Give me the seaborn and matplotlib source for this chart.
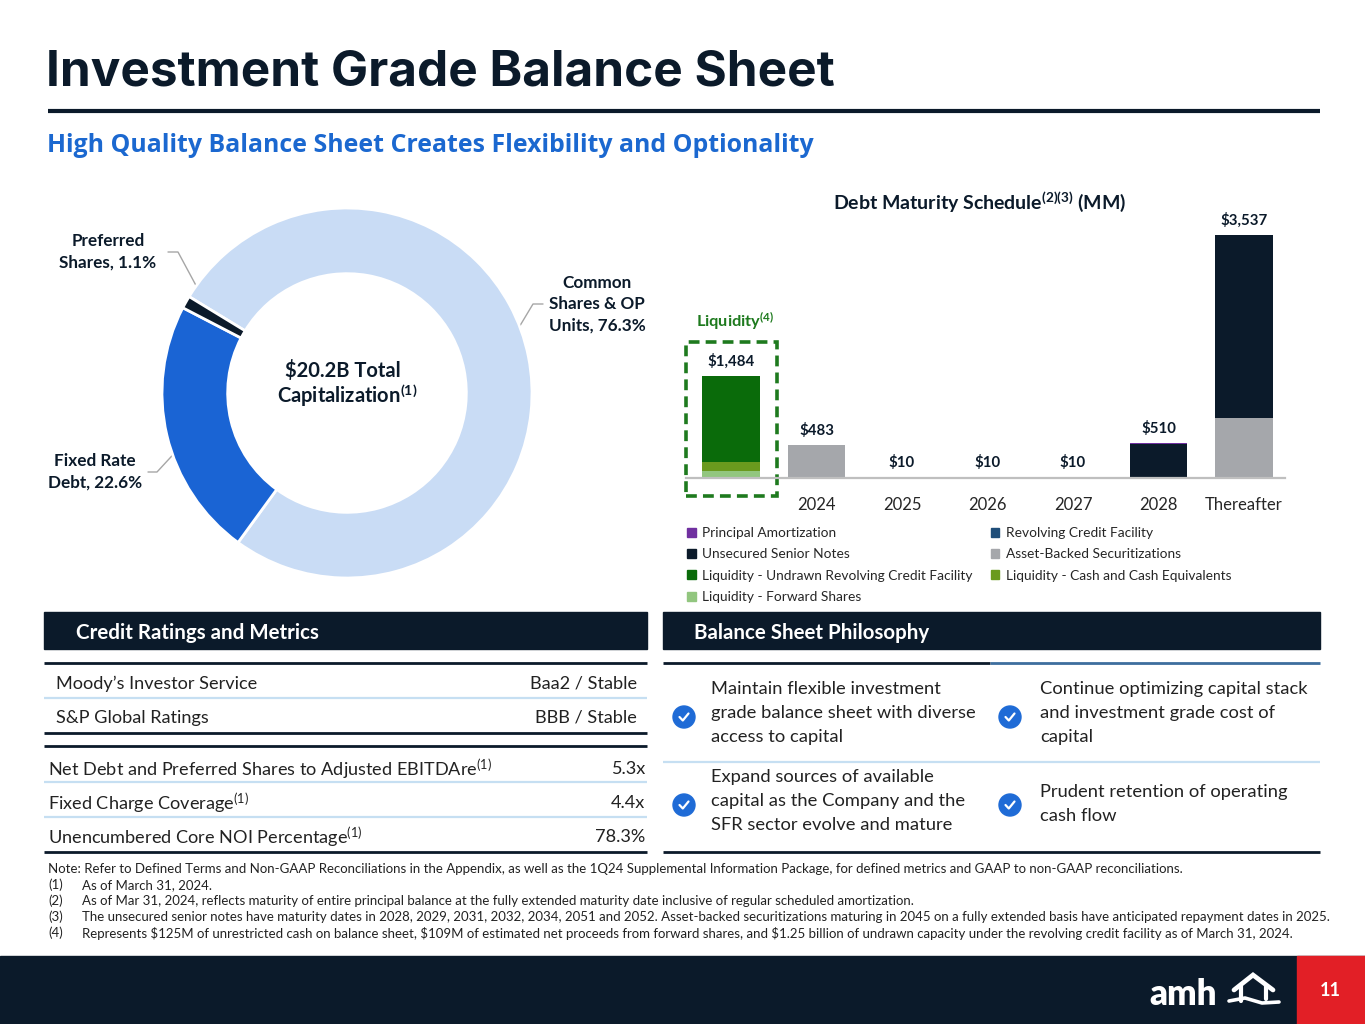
import numpy as np
import pandas as pd
import seaborn as sns
import matplotlib.pyplot as plt
from matplotlib.patches import Rectangle, Circle, Patch

sns.set_theme(style="white")
plt.rcParams["font.family"] = ["Lato", "DejaVu Sans"]
plt.rcParams["mathtext.fontset"] = "custom"
plt.rcParams["mathtext.rm"] = "Lato"
plt.rcParams["mathtext.bf"] = "Lato:bold"
plt.rcParams["mathtext.it"] = "Lato:italic"

NAVY = "#0b1a2a"
TEXT = "#222222"
LIGHT_LINE = "#c6dff2"
GREEN = "#1e7a1e"

# ---- data: total capitalization donut ----
cap_labels = ["Common\nShares & OP\nUnits, 76.3%", "Fixed Rate\nDebt, 22.6%",
              "Preferred\nShares, 1.1%"]
cap_shares = [76.3, 22.6, 1.1]
cap_colors = ["#c9dcf5", "#1a64d4", NAVY]

# ---- data: debt maturity schedule (MM) ----
years = ["Liquidity", "2024", "2025", "2026", "2027", "2028", "Thereafter"]
tick_labels = ["", "2024", "2025", "2026", "2027", "2028", "Thereafter"]
series = ["Principal Amortization", "Revolving Credit Facility",
          "Unsecured Senior Notes", "Asset-Backed Securitizations",
          "Liquidity - Undrawn Revolving Credit Facility",
          "Liquidity - Cash and Cash Equivalents",
          "Liquidity - Forward Shares"]
amortization = [0, 7, 10, 10, 10, 10, 0]
revolver = [0, 0, 0, 0, 0, 0, 0]
unsecured = [0, 0, 0, 0, 0, 500, 2662]
abs_debt = [0, 476, 0, 0, 0, 0, 875]
liq_undrawn = [1250, 0, 0, 0, 0, 0, 0]
liq_cash = [125, 0, 0, 0, 0, 0, 0]
liq_forward = [109, 0, 0, 0, 0, 0, 0]
series_colors = ["#7030a0", "#1f4e79", NAVY, "#a5a7ab",
                 "#0a6b0a", "#6a9a1e", "#92c67f"]

credit_rows = [("Moody’s Investor Service", "Baa2 / Stable"),
               ("S&P Global Ratings", "BBB / Stable")]
metric_rows = [("Net Debt and Preferred Shares to Adjusted EBITDAre$^{(1)}$", "5.3x"),
               ("Fixed Charge Coverage$^{(1)}$", "4.4x"),
               ("Unencumbered Core NOI Percentage$^{(1)}$", "78.3%")]
philosophy = ["Maintain flexible investment\ngrade balance sheet with diverse\naccess to capital",
              "Continue optimizing capital stack\nand investment grade cost of\ncapital",
              "Expand sources of available\ncapital as the Company and the\nSFR sector evolve and mature",
              "Prudent retention of operating\ncash flow"]
footnotes = [
    ("Note: Refer to Defined Terms and Non-GAAP Reconciliations in the Appendix, as well as the 1Q24 "
     "Supplemental Information Package, for defined metrics and GAAP to non-GAAP reconciliations.", ""),
    ("(1)", "As of March 31, 2024."),
    ("(2)", "As of Mar 31, 2024, reflects maturity of entire principal balance at the fully extended "
            "maturity date inclusive of regular scheduled amortization."),
    ("(3)", "The unsecured senior notes have maturity dates in 2028, 2029, 2031, 2032, 2034, 2051 and 2052. "
            "Asset-backed securitizations maturing in 2045 on a fully extended basis have anticipated "
            "repayment dates in 2025."),
    ("(4)", r"Represents \$125M of unrestricted cash on balance sheet, \$109M of estimated net proceeds "
            r"from forward shares, and \$1.25 billion of undrawn capacity under the revolving credit "
            r"facility as of March 31, 2024."),
]

W, H = 1365, 1024
fig = plt.figure(figsize=(W / 100, H / 100), dpi=100)
fig.patch.set_facecolor("white")

# background axes in pixel coordinates
bg = fig.add_axes([0, 0, 1, 1], zorder=0)
bg.set_xlim(0, W)
bg.set_ylim(H, 0)
bg.axis("off")


def hline(y, x0, x1, color, lw):
    bg.plot([x0, x1], [y, y], color=color, lw=lw, solid_capstyle="butt")


# title block
bg.text(46, 72, "Investment Grade Balance Sheet", fontsize=35.6, fontweight="bold",
        family=["Inter", "DejaVu Sans"], color=NAVY, va="center")
hline(111, 48, 1320, NAVY, 3)
bg.text(47, 146, "High Quality Balance Sheet Creates Flexibility and Optionality",
        fontsize=17.9, fontweight="bold", family=["Open Sans", "DejaVu Sans"],
        color="#1b68d0", va="center")

# ---- donut ----
cx, cy, R = 347, 393, 185
ax_d = fig.add_axes([(cx - R) / W, (H - cy - R) / H, 2 * R / W, 2 * R / H], zorder=1)
wedges, _ = ax_d.pie(cap_shares, colors=cap_colors, startangle=148.6,
                     counterclock=False, radius=1,
                     wedgeprops=dict(width=0.355, edgecolor="white", linewidth=2))
ax_d.set_xlim(-1, 1)
ax_d.set_ylim(-1, 1)
ax_d.axis("off")

bg.text(343, 368, "$20.2B Total", fontsize=14.5, fontweight="bold", color=NAVY,
        ha="center", va="center_baseline")
bg.text(347, 393, r"Capitalization$^{\mathbf{(1)}}$", fontsize=14.5, fontweight="bold",
        color=NAVY, ha="center", va="center_baseline")

label_pos = [(597, 304, 543, 533), (95, 472, 148, 157), (108, 252, 168, 178)]
for w, lab, (tx, ty, ax0, ax1) in zip(wedges, cap_labels, label_pos):
    mid = np.deg2rad((w.theta1 + w.theta2) / 2)
    px = cx + 0.83 * R * np.cos(mid)
    py = cy - 0.83 * R * np.sin(mid)
    bg.text(tx, ty, lab, fontsize=12.3, fontweight="bold", color=NAVY, ha="center",
            va="center", multialignment="center", linespacing=1.42)
    bg.plot([ax0, ax1, px], [ty, ty, py], color="#a6a6a6", lw=1)

# ---- debt maturity stacked bars ----
base_y, top_y, left_x, right_x = 478, 224, 686, 1285
ax_b = fig.add_axes([left_x / W, (H - base_y) / H, (right_x - left_x) / W,
                     (base_y - top_y) / H], zorder=1)
ax_b.patch.set_alpha(0)

values = [amortization, revolver, unsecured, abs_debt, liq_undrawn, liq_cash, liq_forward]
rows = []
for name, vals in zip(series, values):
    for yr, v in zip(years, vals):
        rows.append({"year": yr, "series": name, "value": v})
debt = pd.DataFrame(rows)
debt["year"] = pd.Categorical(debt["year"], categories=years, ordered=True)

sns.histplot(data=debt, x="year", weights="value", hue="series", hue_order=series,
             palette=dict(zip(series, series_colors)), multiple="stack",
             discrete=True, shrink=0.67, alpha=1, linewidth=0, legend=False, ax=ax_b)
ax_b.set_xlim(-0.526, 6.48)
ax_b.set_ylim(0, 3700)
ax_b.set_xticks(range(len(years)))
ax_b.set_xticklabels(tick_labels)
ax_b.set_yticks([])
ax_b.set_xlabel("")
ax_b.set_ylabel("")
for s in ["top", "left", "right"]:
    ax_b.spines[s].set_visible(False)
ax_b.spines["bottom"].set_color("#bfbfbf")
ax_b.spines["bottom"].set_linewidth(1.6)
ax_b.tick_params(axis="x", length=0, labelsize=12, pad=14, labelcolor="#262626")

totals = debt.groupby("year", observed=False)["value"].sum()
for i, yr in enumerate(years):
    ax_b.annotate(f"${totals[yr]:,.0f}", (i, totals[yr]), xytext=(0, 5),
                  textcoords="offset points", ha="center", va="bottom",
                  fontsize=10.8, fontweight="bold", color=NAVY)

liq_total = totals["Liquidity"]
ax_b.add_patch(Rectangle((-0.5275, -262), 1.065, liq_total + 760, fill=False,
                         ec=GREEN, lw=2.6, ls=(0, (3, 1.7)), clip_on=False))
ax_b.annotate(r"Liquidity$^{\mathbf{(4)}}$", (0.05, liq_total + 498), xytext=(0, 7),
              textcoords="offset points", ha="center", va="bottom", fontsize=11.8,
              fontweight="bold", color=GREEN)

fig.text(980 / W, 1 - 202 / H,
         r"Debt Maturity Schedule$^{\mathbf{(2)(3)}}$ (MM)", fontsize=14,
         fontweight="bold", color=NAVY, ha="center", va="center")

handles = [Patch(color=c) for c in series_colors]
order = [0, 2, 4, 6, 1, 3, 5]
fig.legend([handles[i] for i in order], [series[i] for i in order], ncol=2,
           loc="upper left", bbox_to_anchor=(687 / W, 1 - 527 / H), frameon=False,
           fontsize=9.9, handlelength=0.65, handleheight=0.65, handletextpad=0.45,
           labelspacing=0.68, columnspacing=1.3, borderaxespad=0, borderpad=0)

# ---- lower panels ----
bg.add_patch(Rectangle((44, 612), 603, 37, color=NAVY))
bg.text(76, 631, "Credit Ratings and Metrics", fontsize=14.8, fontweight="bold",
        color="white", va="center_baseline")
bg.add_patch(Rectangle((663, 612), 657, 37, color=NAVY))
bg.text(694, 631, "Balance Sheet Philosophy", fontsize=14.8, fontweight="bold",
        color="white", va="center_baseline")

hline(663, 44, 647, NAVY, 2)
for (lab, val), y in zip(credit_rows, [682, 716]):
    bg.text(56, y, lab, fontsize=13.1, color=TEXT, va="center_baseline")
    bg.text(637, y, val, fontsize=13.1, color=TEXT, va="center_baseline", ha="right")
hline(698, 44, 647, LIGHT_LINE, 1.6)
hline(733, 44, 647, NAVY, 2)
hline(746, 44, 647, NAVY, 2)
for (lab, val), y in zip(metric_rows, [767, 801, 835]):
    bg.text(48, y, lab, fontsize=13.1, color=TEXT, va="center_baseline")
    bg.text(645, y, val, fontsize=13.1, color=TEXT, va="center_baseline", ha="right")
hline(782, 44, 647, LIGHT_LINE, 1.6)
hline(817, 44, 647, LIGHT_LINE, 1.6)
hline(852, 44, 647, NAVY, 2)

hline(663, 663, 990, NAVY, 2)
hline(663, 990, 1320, "#3d6e9e", 2)
hline(762, 663, 1320, LIGHT_LINE, 1.6)
hline(852, 663, 1320, NAVY, 2)
spots = [(684, 717, 711), (1010, 717, 1040), (684, 805, 711), (1010, 805, 1040)]
for txt, (ccx, ccy, tx) in zip(philosophy, spots):
    bg.add_patch(Circle((ccx, ccy), 11, color="#1f6bd6"))
    bg.plot([ccx - 4.5, ccx - 1.2, ccx + 4.5], [ccy, ccy + 3.5, ccy - 3.5],
            color="white", lw=1.6, solid_capstyle="round")
    n = txt.count("\n") + 1
    bg.text(tx, ccy - 4 + (0 if n == 3 else 3), txt, fontsize=13.2, color=TEXT,
            va="center", linespacing=1.6)

# footnotes
for i, (a, b) in enumerate(footnotes):
    y = 868 + 16 * i
    bg.text(48, y, a, fontsize=9.5, color=TEXT, va="center_baseline")
    if b:
        bg.text(82, y, b, fontsize=9.5, color=TEXT, va="center_baseline")

# footer
bg.add_patch(Rectangle((0, 956), W, 68, color=NAVY))
bg.add_patch(Rectangle((1297, 956), 68, 68, color="#e21f26"))
bg.text(1330, 991, "11", fontsize=13, fontweight="bold", color="white",
        ha="center", va="center")
bg.text(1217, 1005, "amh", fontsize=25, fontweight="heavy", color="white",
        ha="right", va="baseline")
bg.plot([1234, 1253, 1273], [990, 975, 990], color="white", lw=3.4,
        solid_joinstyle="miter")
bg.plot([1241, 1241], [986, 1001], color="white", lw=3)
bg.plot([1266, 1266], [986, 999], color="white", lw=3)
bg.plot([1229, 1245, 1262, 1279], [1001, 998, 1003, 1002], color="white", lw=2.6)

fig.savefig("out.png", dpi=100)
plt.close(fig)
